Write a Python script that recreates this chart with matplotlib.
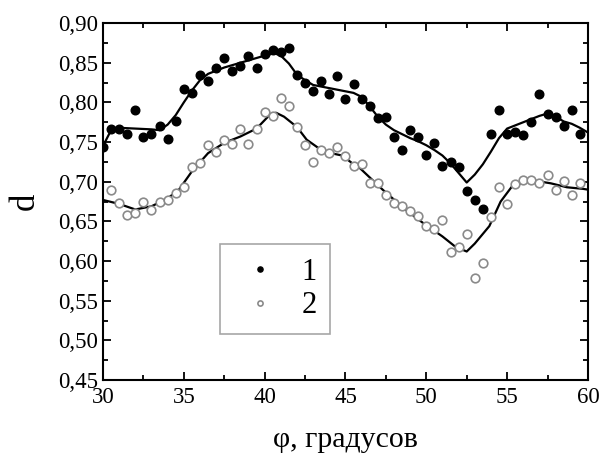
import numpy as np
import matplotlib
matplotlib.use("Agg")
import matplotlib.pyplot as plt

plt.rcParams['font.family'] = ['Liberation Serif', 'DejaVu Serif']
plt.rcParams['mathtext.fontset'] = 'stix'

# Series 1 (filled circles)
phi1 = [30.0, 30.5, 31.0, 31.5, 32.0, 32.5, 33.0, 33.5, 34.0, 34.5, 35.0, 35.5,
        36.0, 36.5, 37.0, 37.5, 38.0, 38.5, 39.0, 39.5, 40.0, 40.5, 41.0, 41.5,
        42.0, 42.5, 43.0, 43.5, 44.0, 44.5, 45.0, 45.5, 46.0, 46.5, 47.0, 47.5,
        48.0, 48.5, 49.0, 49.5, 50.0, 50.5, 51.0, 51.5, 52.0, 52.5, 53.0, 53.5,
        54.0, 54.5, 55.0, 55.5, 56.0, 56.5, 57.0, 57.5, 58.0, 58.5, 59.0, 59.5]
d1 = [0.744, 0.767, 0.767, 0.760, 0.790, 0.757, 0.760, 0.770, 0.754, 0.777, 0.817, 0.812,
      0.835, 0.827, 0.843, 0.856, 0.840, 0.846, 0.858, 0.843, 0.861, 0.866, 0.863, 0.869,
      0.835, 0.825, 0.814, 0.827, 0.810, 0.833, 0.804, 0.823, 0.804, 0.796, 0.780, 0.781,
      0.756, 0.740, 0.765, 0.756, 0.734, 0.749, 0.720, 0.725, 0.718, 0.688, 0.677, 0.666,
      0.760, 0.790, 0.760, 0.763, 0.759, 0.775, 0.810, 0.785, 0.781, 0.770, 0.790, 0.760]

# Series 2 (open circles)
phi2 = [30.5, 31.0, 31.5, 32.0, 32.5, 33.0, 33.5, 34.0, 34.5, 35.0, 35.5,
        36.0, 36.5, 37.0, 37.5, 38.0, 38.5, 39.0, 39.5, 40.0, 40.5, 41.0, 41.5,
        42.0, 42.5, 43.0, 43.5, 44.0, 44.5, 45.0, 45.5, 46.0, 46.5, 47.0, 47.5,
        48.0, 48.5, 49.0, 49.5, 50.0, 50.5, 51.0, 51.5, 52.0, 52.5, 53.0, 53.5,
        54.0, 54.5, 55.0, 55.5, 56.0, 56.5, 57.0, 57.5, 58.0, 58.5, 59.0, 59.5]
d2 = [0.689, 0.673, 0.658, 0.660, 0.675, 0.664, 0.674, 0.677, 0.686, 0.693, 0.718,
      0.723, 0.746, 0.737, 0.753, 0.748, 0.766, 0.748, 0.766, 0.788, 0.783, 0.805, 0.796,
      0.769, 0.746, 0.725, 0.740, 0.736, 0.744, 0.733, 0.720, 0.722, 0.699, 0.699, 0.683,
      0.673, 0.670, 0.663, 0.657, 0.644, 0.641, 0.652, 0.611, 0.618, 0.634, 0.578, 0.597,
      0.655, 0.693, 0.672, 0.697, 0.702, 0.702, 0.699, 0.709, 0.690, 0.701, 0.683, 0.699]

# Smoothed curves
fit_phi1 = [30.0, 30.5, 31.0, 32.0, 33.0, 33.5, 34.0, 34.5, 35.0, 35.5, 36.0, 36.5, 37.0,
            37.5, 38.0, 39.0, 40.0, 40.6, 41.0, 41.5, 42.0, 42.5, 43.0, 43.5, 44.0, 45.0,
            45.5, 46.0, 46.5, 47.0, 47.5, 48.0, 48.5, 49.0, 49.5, 50.0, 50.5, 51.0, 51.5,
            52.0, 52.5, 53.0, 53.5, 54.0, 54.5, 55.0, 55.5, 56.0, 56.5, 57.0, 57.5, 58.0,
            58.5, 59.0, 59.5, 60.0]
fit_d1 = [0.745, 0.765, 0.768, 0.767, 0.766, 0.765, 0.772, 0.784, 0.800, 0.815, 0.828, 0.836, 0.840,
          0.844, 0.847, 0.853, 0.859, 0.862, 0.859, 0.849, 0.835, 0.828, 0.822, 0.820, 0.818, 0.814,
          0.812, 0.807, 0.795, 0.782, 0.772, 0.765, 0.760, 0.755, 0.751, 0.746, 0.740, 0.733, 0.723,
          0.711, 0.699, 0.709, 0.722, 0.738, 0.755, 0.767, 0.771, 0.775, 0.779, 0.783, 0.786, 0.782,
          0.776, 0.773, 0.768, 0.762]

fit_phi2 = [30.0, 31.0, 32.0, 33.0, 34.0, 34.7, 35.5, 36.5, 37.5, 38.5, 39.5, 40.3, 40.7,
            41.2, 42.0, 42.6, 43.5, 44.1, 44.8, 45.5, 45.9, 47.3, 48.7, 49.8, 51.0, 51.8,
            52.5, 53.0, 53.9, 54.6, 55.3, 56.1, 56.8, 57.7, 58.7, 59.7, 60.0]
fit_d2 = [0.677, 0.672, 0.665, 0.669, 0.679, 0.690, 0.713, 0.736, 0.749, 0.757, 0.767, 0.784, 0.787,
          0.782, 0.769, 0.753, 0.740, 0.736, 0.733, 0.722, 0.717, 0.690, 0.665, 0.648, 0.631, 0.618,
          0.612, 0.622, 0.644, 0.675, 0.694, 0.700, 0.701, 0.698, 0.693, 0.691, 0.690]

xticks = [30, 35, 40, 45, 50, 55, 60]
yticks = [0.45, 0.50, 0.55, 0.60, 0.65, 0.70, 0.75, 0.80, 0.85, 0.90]
ytick_labels = ['0,45', '0,50', '0,55', '0,60', '0,65', '0,70', '0,75', '0,80', '0,85', '0,90']

fig = plt.figure(figsize=(6.03, 4.62), dpi=100)
ax = fig.add_axes([0.1708, 0.1775, 0.8042, 0.7725])

ax.plot(fit_phi1, fit_d1, color='black', lw=1.6, zorder=2)
ax.plot(fit_phi2, fit_d2, color='black', lw=1.6, zorder=2)
h1, = ax.plot(phi1, d1, 'o', color='black', ms=6.2, mec='black', zorder=3, label='1')
h2, = ax.plot(phi2, d2, 'o', mfc='white', mec='#8a8a8a', mew=1.2, ms=6.2, zorder=3, label='2')

ax.set_xlim(30, 60)
ax.set_ylim(0.45, 0.90)
ax.set_xticks(xticks)
ax.set_yticks(yticks)
ax.set_yticklabels(ytick_labels)
ax.set_xticks(np.arange(30, 60.1, 2.5), minor=True)
ax.set_yticks(np.arange(0.45, 0.901, 0.025), minor=True)
ax.tick_params(which='both', direction='in', top=True, right=True, labelsize=16.5, width=1.3)
ax.tick_params(which='major', length=6)
ax.tick_params(which='minor', length=3.5)
ax.tick_params(axis='x', pad=5)
for s in ax.spines.values():
    s.set_linewidth(1.5)

ax.set_xlabel('φ, градусов', fontsize=21.5, labelpad=14)
ax.set_ylabel('d', fontsize=25, labelpad=12)

leg = ax.legend(handles=[h1, h2], loc='center', bbox_to_anchor=(0.243, 0.134, 0.225, 0.241),
                fontsize=22, markerscale=0.6, frameon=True, fancybox=False,
                edgecolor='#909090', handletextpad=0.5, borderpad=0.45, labelspacing=0.15,
                handlelength=1.7, borderaxespad=0.0)
leg.get_frame().set_linewidth(1.2)

fig.savefig('out.png', dpi=100)
